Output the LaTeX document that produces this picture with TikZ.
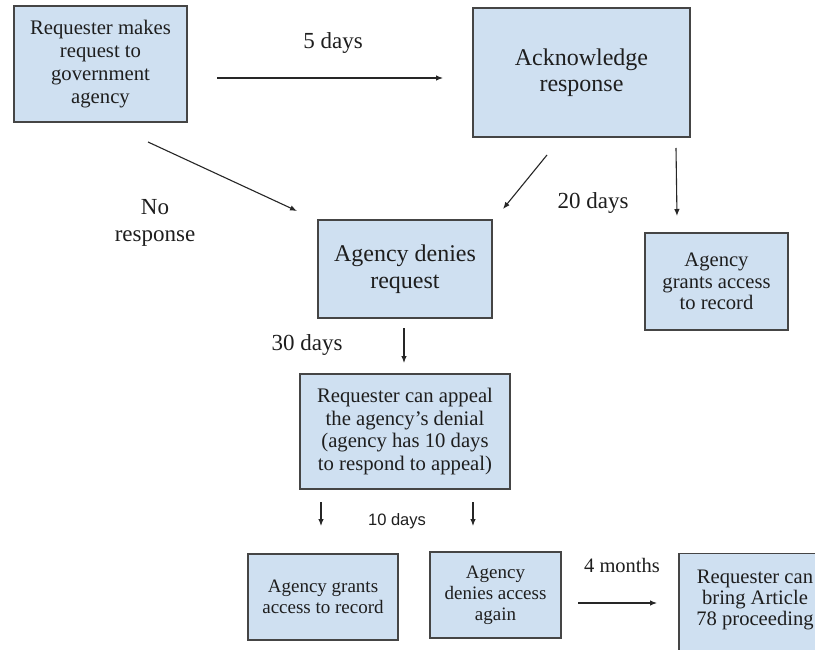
\documentclass[tikz,border=0pt]{standalone}
\usepackage{fontspec}
\setmainfont{Liberation Serif}
\newfontfamily\arialf{Liberation Sans}
\usetikzlibrary{arrows.meta}
\definecolor{boxfill}{HTML}{CFE0F1}
\definecolor{boxline}{HTML}{454545}
\definecolor{txtc}{HTML}{1E1E1E}
\begin{document}
\begin{tikzpicture}[x=1pt,y=-1pt,
  box/.style={draw=boxline, line width=1.3pt, fill=boxfill, text=txtc, align=center, inner sep=0pt},
  arr/.style={-{Latex[length=7pt,width=5.5pt]}, line width=1.1pt, draw=black!85},
  lbl/.style={text=txtc, align=center, inner sep=0pt}]
\useasboundingbox[fill=white] (0,0) rectangle (815,650);

% boxes
\node[box, minimum width=173pt, minimum height=116pt, font=\fontsize{20.7}{22.8}\selectfont] (req) at (100.5,64) {Requester makes\\request to\\government\\agency};
\node[box, minimum width=217pt, minimum height=129pt, font=\fontsize{24}{26}\selectfont] (ack) at (581.5,72.5) {Acknowledge\\response};
\node[box, minimum width=174pt, minimum height=98pt, font=\fontsize{24}{27}\selectfont] (deny) at (405,269) {Agency denies\\request};
\node[box, minimum width=143pt, minimum height=97pt, font=\fontsize{20.6}{21.8}\selectfont] (grant) at (716.5,281.5) {Agency\\grants access\\to record};
\node[box, minimum width=210pt, minimum height=115pt, font=\fontsize{20.7}{22.4}\selectfont] (appeal) at (405,431.5) {Requester can appeal\\the agency’s denial\\(agency has 10 days\\to respond to appeal)};
\node[box, minimum width=150pt, minimum height=86pt, font=\fontsize{19}{21}\selectfont] (granttwo) at (323,597) {Agency grants\\access to record};
\node[box, minimum width=131pt, minimum height=86pt, font=\fontsize{19}{21}\selectfont] (denytwo) at (495.5,595) {Agency\\denies access\\again};
\node[box, minimum width=152pt, minimum height=117pt, anchor=north] (art) at (755,553) {};
\node[lbl, font=\fontsize{20.6}{21}\selectfont] (arttxt) at (755,600) {Requester can\\bring Article\\78 proceeding};

% arrow end points
\coordinate (a1s) at (217,78);  \coordinate (a1e) at (443,78);
\coordinate (a2s) at (148,142); \coordinate (a2e) at (297,211);
\coordinate (a3s) at (547,155); \coordinate (a3e) at (503,209);
\coordinate (a4s) at (676,148); \coordinate (a4e) at (677,216);
\coordinate (a5s) at (404,328); \coordinate (a5e) at (404,363);
\coordinate (a6s) at (321,502); \coordinate (a6e) at (321,526);
\coordinate (a7s) at (473,502); \coordinate (a7e) at (473,526);
\coordinate (a8s) at (578,603); \coordinate (a8e) at (657,603);

\draw[arr] (a1s) -- (a1e);
\draw[arr] (a2s) -- (a2e);
\draw[arr] (a3s) -- (a3e);
\draw[arr] (a4s) -- (a4e);
\draw[arr] (a5s) -- (a5e);
\draw[arr] (a6s) -- (a6e);
\draw[arr] (a7s) -- (a7e);
\draw[arr] (a8s) -- (a8e);

% labels
\node[lbl, font=\fontsize{23}{26}\selectfont] (l5) at (333,43) {5 days};
\node[lbl, font=\fontsize{23}{26.5}\selectfont] (lno) at (155,223) {No\\response};
\node[lbl, font=\fontsize{23}{26}\selectfont] (l20) at (593,203) {20 days};
\node[lbl, font=\fontsize{23}{26}\selectfont] (l30) at (307,345) {30 days};
\node[lbl, font=\arialf\fontsize{16.5}{18}\selectfont] (l10) at (397,521) {10 days};
\node[lbl, font=\fontsize{20.5}{23}\selectfont] (l4) at (622,565) {4 months};
\end{tikzpicture}
\end{document}
